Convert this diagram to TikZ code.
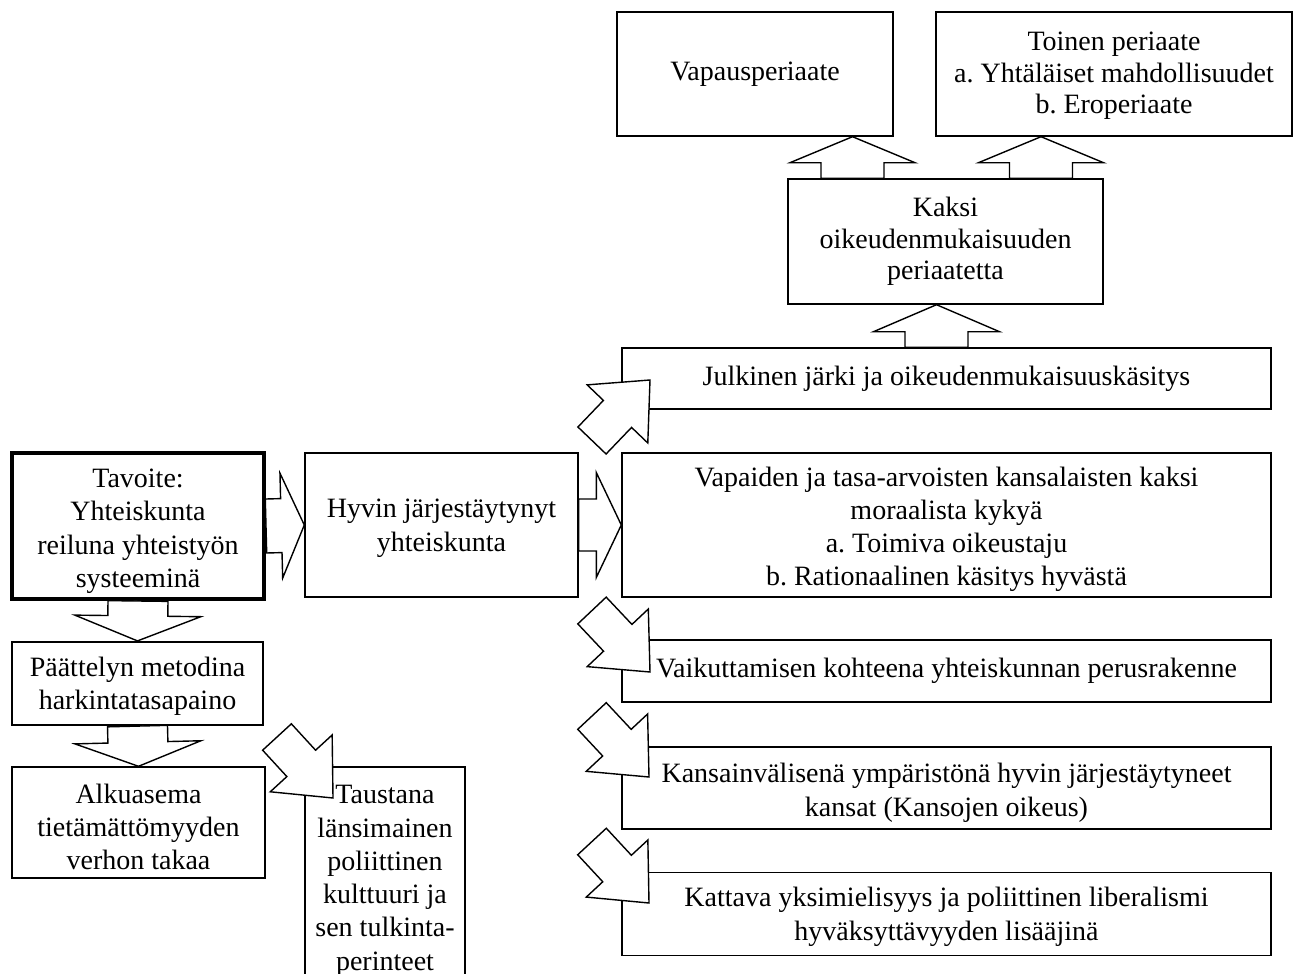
\documentclass[tikz,border=0pt]{standalone}
\usepackage{fontspec}
\setmainfont{Liberation Serif}
\frenchspacing
\usetikzlibrary{calc}
\tikzset{
  box/.style={draw, line width=1.4pt, fill=white, inner sep=2pt, align=center,
    font=\fontsize{28}{33.3}\selectfont},
  tight/.style={font=\fontsize{28}{31.6}\selectfont},
  txt/.style={inner sep=0pt, align=center, font=\fontsize{28}{33.3}\selectfont},
  barrow/.style={draw, fill=white, line width=1.4pt, line join=miter},
}
\newcommand\tsup[1]{\rule{0pt}{#1}}
% #1 tail, #2 tip, #3 shaft half width, #4 head half width, #5 head length
\newcommand\blockarrow[5]{%
  \coordinate (bacc) at ($(#2)!#5!(#1)$);
  \draw[barrow] ($(#1)!#3!90:(#2)$) -- ($(bacc)!#3!90:(#2)$) -- ($(bacc)!#4!90:(#2)$)
    -- (#2) -- ($(bacc)!#4!-90:(#2)$) -- ($(bacc)!#3!-90:(#2)$) -- ($(#1)!#3!-90:(#2)$) -- cycle;}
\begin{document}
\begin{tikzpicture}[x=1pt,y=-1pt]
\useasboundingbox (0,0) rectangle (1293,974);
\clip (0,0) rectangle (1293,974);
% boxes
\node[box, minimum width=276pt, minimum height=124pt] (vapaus) at (755,74) {Vapausperiaate};
\node[box, tight, minimum width=356pt, minimum height=124pt] (toinen) at (1114,74) {\tsup{22pt}Toinen periaate\\a. Yhtäläiset mahdollisuudet\\b. Eroperiaate};
\node[box, tight, minimum width=315pt, minimum height=125pt] (kaksi) at (945.5,241.5) {Kaksi\\oikeudenmukaisuuden\\periaatetta};
\node[box, minimum width=649pt, minimum height=61pt] (julk) at (946.5,378.5) {Julkinen järki ja oikeudenmukaisuuskäsitys};
\node[box, minimum width=649pt, minimum height=144pt] (vapaid) at (946.5,525) {\tsup{28pt}Vapaiden ja tasa-arvoisten kansalaisten kaksi\\moraalista kykyä\\a. Toimiva oikeustaju\\b. Rationaalinen käsitys hyvästä};
\node[box, minimum width=649pt, minimum height=62pt] (vaik) at (946.5,671) {Vaikuttamisen kohteena yhteiskunnan perusrakenne};
\node[box, minimum width=649pt, minimum height=82pt] (kans) at (946.5,788) {\tsup{29pt}Kansainvälisenä ympäristönä hyvin järjestäytyneet\\kansat (Kansojen oikeus)};
\node[box, minimum width=649pt, minimum height=83pt] (katt) at (946.5,914) {\tsup{25pt}Kattava yksimielisyys ja poliittinen liberalismi\\hyväksyttävyyden lisääjinä};
\node[box, line width=4pt, minimum width=252pt, minimum height=146pt] (tav) at (138,526) {\tsup{29pt}Tavoite:\\Yhteiskunta\\reiluna yhteistyön\\systeeminä};
\node[box, minimum width=273pt, minimum height=144pt] (hyvin) at (441.5,525) {\tsup{25pt}Hyvin järjestäytynyt\\yhteiskunta};
\node[box, line width=2.2pt, minimum width=251pt, minimum height=83pt] (paat) at (137.5,683.5) {\tsup{25pt}Päättelyn metodina\\harkintatasapaino};
\node[box, minimum width=253pt, minimum height=111pt] (alku) at (138.5,822.5) {};
\node[txt] (alkutxt) at (138.5,827) {Alkuasema\\tietämättömyyden\\verhon takaa};
\node[box, minimum width=160pt, minimum height=223pt] (taus) at (385,878.5) {\tsup{23pt}Taustana\\länsimainen\\poliittinen\\kulttuuri ja\\sen tulkinta-\\perinteet};
% block arrows
\coordinate (a1t) at (kaksi.north -| 852.5,0); \coordinate (a1h) at (vapaus.south -| 852.5,0);
\blockarrow{a1t}{a1h}{31.5pt}{62.5pt}{26pt}
\coordinate (a2t) at (kaksi.north -| 1041,0); \coordinate (a2h) at (toinen.south -| 1041,0);
\blockarrow{a2t}{a2h}{31.5pt}{62.5pt}{26pt}
\coordinate (a3t) at (julk.north -| 936.5,0); \coordinate (a3h) at (kaksi.south -| 936.5,0);
\blockarrow{a3t}{a3h}{31.5pt}{63pt}{27pt}
\blockarrow{tav.south}{paat.north}{30pt}{63pt}{25pt}
\blockarrow{paat.south}{alku.north}{30pt}{63pt}{24pt}
\blockarrow{tav.east}{hyvin.west}{27pt}{52.5pt}{23pt}
\blockarrow{hyvin.east}{vapaid.west}{26pt}{52.5pt}{25pt}
\coordinate (d1t) at (592,440.5); \coordinate (d1h) at (650,380);
\blockarrow{d1t}{d1h}{19.5pt}{42pt}{47pt}
\coordinate (d2t) at (592,610.5); \coordinate (d2h) at (650,672);
\blockarrow{d2t}{d2h}{19.5pt}{42pt}{47pt}
\coordinate (d3t) at (592,716); \coordinate (d3h) at (649,777);
\blockarrow{d3t}{d3h}{19.5pt}{42pt}{47pt}
\coordinate (d4t) at (592,841.5); \coordinate (d4h) at (649,903);
\blockarrow{d4t}{d4h}{19.5pt}{42pt}{47pt}
\coordinate (d5t) at (277,737); \coordinate (d5h) at (333,798);
\blockarrow{d5t}{d5h}{19.5pt}{42pt}{47pt}
\end{tikzpicture}
\end{document}
